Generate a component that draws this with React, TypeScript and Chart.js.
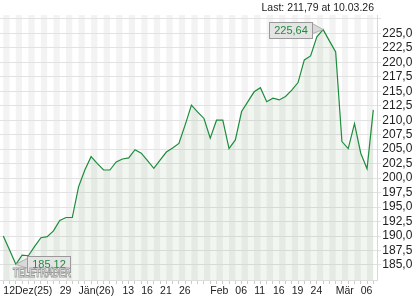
import React, { useEffect, useRef } from "react";
import { Chart, registerables } from "chart.js";

Chart.register(...registerables);

// ---- data ----
const prices: number[] = [
  190.0, 187.6, 185.12, 186.7, 186.6, 188.2, 189.7, 189.9, 190.9, 192.7,
  193.2, 193.2, 198.5, 201.4, 203.7, 202.5, 201.4, 201.4, 202.8, 203.3,
  203.5, 204.9, 204.3, 203.0, 201.7, 203.1, 204.5, 205.2, 206.0, 209.2,
  212.6, 211.4, 210.3, 206.9, 210.0, 210.0, 205.1, 206.6, 211.5, 213.2,
  214.9, 215.6, 213.2, 213.8, 213.5, 214.1, 215.2, 216.5, 220.4, 221.1,
  224.4, 225.64, 223.7, 221.8, 206.3, 205.1, 209.4, 204.3, 201.6, 211.79,
];
const labelIndices: number[] = [0, 9, 12, 19, 22, 25, 28, 33, 37, 40, 43, 46, 49, 53, 57];
const labelTexts: string[] = ["12Dez(25)", "29", "Jän(26)", "13", "16", "21", "26", "Feb", "06", "11", "16", "19", "24", "Mär", "06"];
const yTickValues: number[] = [185, 187.5, 190, 192.5, 195, 197.5, 200, 202.5, 205, 207.5, 210, 212.5, 215, 217.5, 220, 222.5, 225, 227.5];
const yLabelMax = 225;
const lastText = "Last: 211,79 at 10.03.26";
const watermark = "TELETRADER";

const fmt = (v: number, d: number) => v.toFixed(d).replace(".", ",");

function callout(ctx: CanvasRenderingContext2D, px: number, py: number, text: string, side: "left" | "right") {
  const w = 43, h = 16, gap = 11.5;
  const bx = Math.round(side === "left" ? px - gap - w : px + gap) + 0.5;
  const by = Math.round(py - h / 2) + 0.5;
  const edge = side === "left" ? bx + w : bx;
  ctx.save();
  ctx.lineWidth = 1;
  ctx.beginPath();
  ctx.moveTo(edge, py - 6);
  ctx.lineTo(px, py);
  ctx.lineTo(edge, py + 4);
  ctx.closePath();
  ctx.fillStyle = "#d9d9d9";
  ctx.fill();
  ctx.strokeStyle = "#b0b0b0";
  ctx.stroke();
  ctx.fillStyle = "#e4e4e4";
  ctx.fillRect(bx, by, w, h);
  ctx.strokeStyle = "#9a9a9a";
  ctx.strokeRect(bx, by, w, h);
  ctx.fillStyle = "#1e8c3c";
  ctx.font = "11px 'Liberation Sans', Arial, sans-serif";
  ctx.textAlign = "center";
  ctx.textBaseline = "middle";
  ctx.fillText(text, bx + w / 2, by + h / 2 + 0.5);
  ctx.restore();
}

const decor = {
  id: "decor",
  beforeDraw(chart: any) {
    const { ctx, chartArea: a } = chart;
    const x = chart.scales.x;
    ctx.save();
    ctx.fillStyle = "#ffffff";
    ctx.fillRect(0, 0, chart.width, chart.height);
    ctx.beginPath();
    ctx.rect(a.left, a.top, a.right - a.left, a.bottom - a.top);
    ctx.clip();
    for (let i = -1; i < prices.length; i++) {
      if (i % 2 !== 0) continue;
      const x0 = x.getPixelForValue(i);
      const x1 = x.getPixelForValue(i + 1);
      ctx.fillStyle = "#f3f3f3";
      ctx.fillRect(x0, a.top, x1 - x0, a.bottom - a.top);
    }
    ctx.restore();
  },
  afterDatasetsDraw(chart: any) {
    const { ctx, chartArea: a } = chart;
    const x = chart.scales.x;
    const y = chart.scales.y;
    let maxI = 0, minI = 0;
    prices.forEach((p, i) => {
      if (p > prices[maxI]) maxI = i;
      if (p < prices[minI]) minI = i;
    });
    callout(ctx, x.getPixelForValue(maxI), y.getPixelForValue(prices[maxI]), fmt(prices[maxI], 2), "left");
    callout(ctx, x.getPixelForValue(minI), y.getPixelForValue(prices[minI]), fmt(prices[minI], 2), "right");

    ctx.save();
    ctx.font = "bold 12px 'Liberation Sans', Arial, sans-serif";
    ctx.textAlign = "left";
    ctx.textBaseline = "alphabetic";
    ctx.lineWidth = 1;
    ctx.fillStyle = "rgba(255,255,255,0.85)";
    ctx.strokeStyle = "rgba(140,140,140,0.85)";
    ctx.fillText(watermark, a.left + 13, a.bottom - 3.5, 58);
    ctx.strokeText(watermark, a.left + 13, a.bottom - 3.5, 58);
    ctx.restore();

    ctx.save();
    ctx.font = "10.5px 'Liberation Sans', Arial, sans-serif";
    ctx.fillStyle = "#222";
    ctx.textAlign = "right";
    ctx.textBaseline = "middle";
    ctx.fillText(lastText, a.right - 3, 8);
    ctx.restore();
  },
};

export default function App() {
  const ref = useRef<HTMLCanvasElement | null>(null);
  useEffect(() => {
    if (!ref.current) return;
    const chart = new Chart(ref.current, {
      type: "line",
      data: {
        labels: prices.map((_, i) => i),
        datasets: [
          {
            data: prices.map((p, i) => ({ x: i, y: p })),
            borderColor: "#1e8c3c",
            borderWidth: 1.2,
            pointRadius: 0,
            tension: 0,
            fill: "start",
            backgroundColor: "rgba(70,135,60,0.075)",
          },
        ],
      },
      options: {
        responsive: false,
        animation: false,
        layout: { padding: { top: 15, left: 0, right: 0, bottom: 0 } },
        plugins: { legend: { display: false }, tooltip: { enabled: false }, title: { display: false } },
        scales: {
          x: {
            type: "linear",
            min: -0.526,
            max: 59.59,
            afterBuildTicks: (s: any) => {
              s.ticks = prices.map((_, i) => ({ value: i }));
            },
            afterFit: (s: any) => {
              s.height = 20;
            },
            ticks: {
              autoSkip: false,
              maxRotation: 0,
              minRotation: 0,
              align: "start",
              padding: 1,
              color: "#222",
              font: { family: "'Liberation Sans', Arial, sans-serif", size: 10.5 },
              callback: (v: any) => {
                const k = labelIndices.indexOf(Number(v));
                return k >= 0 ? labelTexts[k] : "";
              },
            },
            grid: { drawOnChartArea: false, drawTicks: true, tickLength: 4, color: "#cccccc" },
            border: { display: true, color: "#dddddd" },
          },
          y: {
            type: "linear",
            position: "right",
            min: 182.41,
            max: 228.16,
            afterBuildTicks: (s: any) => {
              s.ticks = yTickValues.map((v) => ({ value: v }));
            },
            afterFit: (s: any) => {
              s.width = 43;
            },
            ticks: {
              autoSkip: false,
              padding: 1.3,
              color: "#222",
              font: { family: "'Liberation Sans', Arial, sans-serif", size: 12 },
              callback: (v: any) => (Number(v) <= yLabelMax ? fmt(Number(v), 1) : ""),
            },
            grid: { color: "#e2e2e2", tickLength: 4, drawTicks: true },
            border: { display: true, color: "#d8d8d8" },
          },
        },
      },
      plugins: [decor],
    } as any);
    return () => chart.destroy();
  }, []);
  return (
    <div style={{ position: "absolute", left: 0, top: 0, width: 420, height: 300 }}>
      <canvas ref={ref} width={420} height={300} />
    </div>
  );
}
